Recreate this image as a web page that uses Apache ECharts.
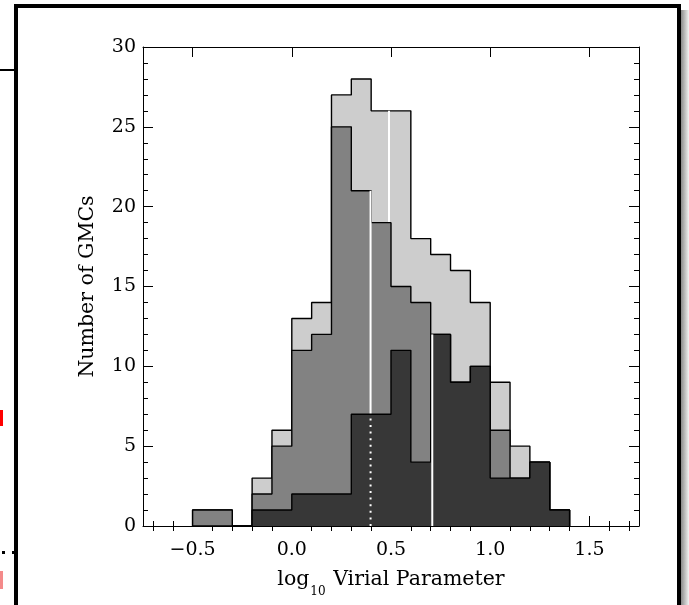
<!DOCTYPE html>
<html><head><meta charset="utf-8">
<script src="https://cdn.jsdelivr.net/npm/echarts@6/dist/echarts.min.js"></script>
<style>html,body{margin:0;padding:0;background:#fff;overflow:hidden}#c{width:689px;height:605px}</style>
</head><body><div id="c"></div>
<script>
// ---- data ----
const binEdges = [-0.5,-0.4,-0.3,-0.2,-0.1,0.0,0.1,0.2,0.3,0.4,0.5,0.6,0.7,0.8,0.9,1.0,1.1,1.2,1.3,1.4];
const countsAll  = [1,1,0,3,6,13,14,27,28,26,26,18,17,16,14,9,5,4,1];
const countsMid  = [1,1,0,2,5,11,12,25,21,19,15,14,12,9,10,6,3,4,1];
const countsDark = [0,0,0,1,1,2,2,2,7,7,11,4,12,9,10,3,3,4,1];
const medianAll = 0.49;
const medianMid = 0.397;
const medianDarkDotted = 0.397;
const medianDark = 0.708;
const xMajorTicks = [-0.5,0.0,0.5,1.0,1.5];
const xMinorTicks = [-0.7,-0.6,-0.4,-0.3,-0.2,-0.1,0.1,0.2,0.3,0.4,0.6,0.7,0.8,0.9,1.1,1.2,1.3,1.4,1.6,1.7];
const xRange = [-0.75, 1.75];
const yRange = [0, 30];
const yInterval = 5;
const xTitle = 'log{sub|10} Virial Parameter';
const yTitle = 'Number of GMCs';

// ---- helpers ----
function stepData(counts){
  const d = [[binEdges[0], 0]];
  for (let i = 0; i < counts.length; i++) d.push([binEdges[i], counts[i]]);
  d.push([binEdges[counts.length], 0]);
  return d;
}
function heightAt(counts, x){
  for (let i = 0; i < counts.length; i++) {
    if (x >= binEdges[i] && x < binEdges[i+1]) return counts[i];
  }
  return 0;
}
function histSeries(counts, color, z){
  return {
    type:'line', step:'end', data: stepData(counts), symbol:'none', z: z,
    xAxisIndex:0, yAxisIndex:0, animation:false, silent:true,
    lineStyle:{color:'#000', width:1.4},
    areaStyle:{color:color, opacity:1}
  };
}
function vline(x, h, dashed, z){
  return {
    type:'line', data:[[x,0],[x,h]], symbol:'none', z:z, animation:false, silent:true,
    xAxisIndex:0, yAxisIndex:0,
    lineStyle:{color:'#fff', width:2, type: dashed ? [2,4.6] : 'solid', cap:'butt'}
  };
}
const fmtX = v => (v < 0 ? '\u2212' : '') + Math.abs(v).toFixed(1);
const FONT = 'DejaVu Serif';

const baseX = {
  type:'value', min:xRange[0], max:xRange[1], splitLine:{show:false},
  gridIndex:0
};
const option = {
  backgroundColor:'#fff',
  animation:false,
  grid:{left:143, right:50, top:47, bottom:79, containLabel:false},
  xAxis:[
    Object.assign({}, baseX, {
      position:'bottom',
      axisLine:{show:true, onZero:false, lineStyle:{color:'#000', width:1}},
      axisTick:{show:true, inside:true, length:10, customValues:xMajorTicks, lineStyle:{color:'#000', width:1}},
      axisLabel:{show:true, customValues:xMajorTicks, formatter:fmtX, margin:15, color:'#000', fontFamily:FONT, fontSize:19},
      name:xTitle, nameLocation:'middle', nameGap:43,
      nameTextStyle:{color:'#000', fontFamily:FONT, fontSize:20.5,
        rich:{sub:{fontFamily:FONT, fontSize:12, verticalAlign:'bottom', padding:[0,1,-8,1], color:'#000'}}}
    }),
    Object.assign({}, baseX, {
      position:'bottom',
      axisLine:{show:false},
      axisTick:{show:true, inside:true, length:5, customValues:xMinorTicks, lineStyle:{color:'#000', width:1}},
      axisLabel:{show:false}
    }),
    Object.assign({}, baseX, {
      position:'top',
      axisLine:{show:true, onZero:false, lineStyle:{color:'#000', width:1}},
      axisTick:{show:true, inside:true, length:10, customValues:xMajorTicks, lineStyle:{color:'#000', width:1}},
      axisLabel:{show:false}
    }),
    Object.assign({}, baseX, {
      position:'top',
      axisLine:{show:false},
      axisTick:{show:true, inside:true, length:5, customValues:xMinorTicks, lineStyle:{color:'#000', width:1}},
      axisLabel:{show:false}
    })
  ],
  yAxis:[
    {
      type:'value', min:yRange[0], max:yRange[1], interval:yInterval, position:'left',
      splitLine:{show:false},
      axisLine:{show:true, onZero:false, lineStyle:{color:'#000', width:1}},
      axisTick:{show:true, inside:true, length:10, lineStyle:{color:'#000', width:1}},
      minorTick:{show:true, splitNumber:5, length:5, lineStyle:{color:'#000', width:1}},
      axisLabel:{show:true, margin:7, color:'#000', fontFamily:FONT, fontSize:19},
      name:yTitle, nameLocation:'middle', nameGap:45, nameRotate:90,
      nameTextStyle:{color:'#000', fontFamily:FONT, fontSize:20.5}
    },
    {
      type:'value', min:yRange[0], max:yRange[1], interval:yInterval, position:'right',
      splitLine:{show:false},
      axisLine:{show:true, onZero:false, lineStyle:{color:'#000', width:1}},
      axisTick:{show:true, inside:true, length:10, lineStyle:{color:'#000', width:1}},
      minorTick:{show:true, splitNumber:5, length:5, lineStyle:{color:'#000', width:1}},
      axisLabel:{show:false}
    }
  ],
  series:[
    histSeries(countsAll, '#cdcdcd', 2),
    vline(medianAll, heightAt(countsAll, medianAll), false, 3),
    histSeries(countsMid, '#828282', 4),
    vline(medianMid, heightAt(countsMid, medianMid), false, 5),
    histSeries(countsDark, '#373737', 6),
    vline(medianDarkDotted, heightAt(countsDark, medianDarkDotted), true, 7),
    vline(medianDark, heightAt(countsDark, medianDark), false, 7)
  ],
  graphic:[
    // outer panel frame
    {type:'rect', shape:{x:681, y:10, width:8, height:600}, style:{fill:new echarts.graphic.LinearGradient(0,0,1,0,[{offset:0,color:'#8a8a8a'},{offset:1,color:'#f4f4f4'}])}, z:-1, silent:true},
    {type:'rect', shape:{x:16, y:6, width:663, height:620}, style:{fill:null, stroke:'#000', lineWidth:4}, silent:true},
    // fragments of neighbouring panel
    {type:'rect', shape:{x:0, y:69, width:14, height:2}, style:{fill:'#000'}, silent:true},
    {type:'rect', shape:{x:0, y:410, width:3, height:16}, style:{fill:'#ff0000'}, silent:true},
    {type:'rect', shape:{x:2, y:551, width:3, height:3}, style:{fill:'#000'}, silent:true},
    {type:'rect', shape:{x:12, y:551, width:3, height:3}, style:{fill:'#000'}, silent:true},
    {type:'rect', shape:{x:0, y:571, width:3, height:18}, style:{fill:'#f48a8a'}, silent:true}
  ]
};
const chart = echarts.init(document.getElementById('c'), null, {renderer:'canvas'});
chart.setOption(option);
</script>
</body></html>
